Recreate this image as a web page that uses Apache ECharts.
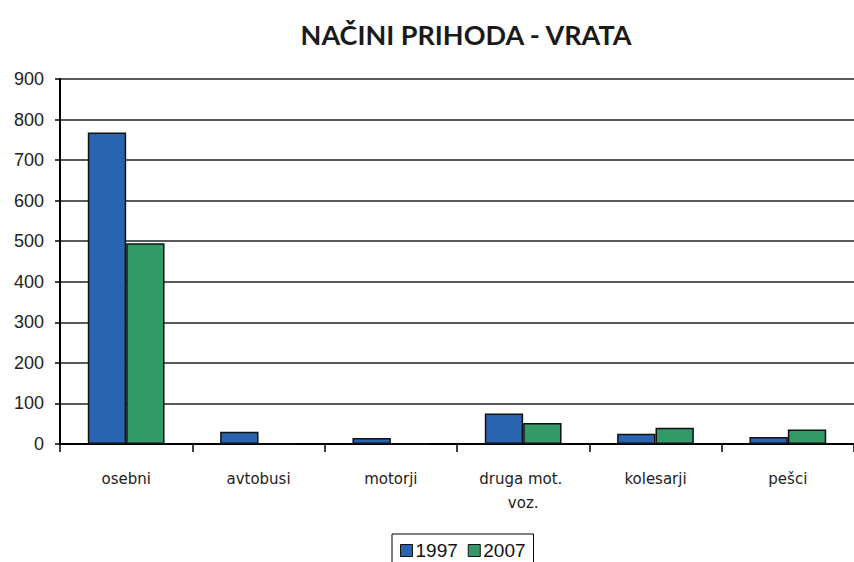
<!DOCTYPE html>
<html>
<head>
<meta charset="utf-8">
<script src="https://cdn.jsdelivr.net/npm/echarts@6/dist/echarts.min.js"></script>
<style>
  html, body { margin: 0; padding: 0; background: #fff; }
  #chart { width: 854px; height: 562px; }
</style>
</head>
<body>
<div id="chart"></div>
<script>
(function() {
  var categories = ['osebni', 'avtobusi', 'motorji', 'druga mot. voz.', 'kolesarji', 'pešci'];
  var values1997 = [768, 30, 15, 75, 25, 17];
  var values2007 = [495, 0, 0, 52, 40, 36];
  var yTicks = [0, 100, 200, 300, 400, 500, 600, 700, 800, 900];

  var chart = echarts.init(document.getElementById('chart'), null, { renderer: 'svg' });

  chart.setOption({
    animation: false,
    backgroundColor: '#ffffff',
    title: {
      text: 'NAČINI PRIHODA - VRATA',
      left: 461,
      top: 16,
      textAlign: 'center',
      textStyle: {
        fontFamily: 'Lato',
        fontSize: 27,
        fontWeight: 'bold',
        color: '#1a1a1a'
      }
    },
    legend: {
      bottom: -8,
      left: 392,
      itemWidth: 12,
      itemHeight: 12,
      itemGap: 10,
      padding: [7, 8, 10, 8],
      borderColor: '#000',
      borderWidth: 1,
      icon: 'rect',
      itemStyle: { borderColor: '#111', borderWidth: 1 },
      textStyle: { color: '#111', fontFamily: 'Liberation Sans', fontSize: 19, padding: [0, 0, 0, -2] },
      data: ['1997', '2007']
    },
    grid: {
      left: 60,
      right: -13,
      top: 79,
      bottom: 118
    },
    xAxis: {
      type: 'category',
      data: categories,
      axisLine: { lineStyle: { color: '#000', width: 2 } },
      axisTick: { show: true, interval: 0, length: 8, lineStyle: { color: '#000', width: 1.5 } },
      axisLabel: {
        interval: 0,
        color: '#222',
        fontFamily: 'DejaVu Sans',
        fontSize: 15,
        margin: 23,
        width: 110,
        overflow: 'break',
        lineHeight: 24
      }
    },
    yAxis: {
      type: 'value',
      min: yTicks[0],
      max: yTicks[yTicks.length - 1],
      interval: 100,
      axisLine: { show: true, lineStyle: { color: '#000', width: 2 } },
      axisTick: { show: true, length: 5, lineStyle: { color: '#000', width: 1.5 } },
      axisLabel: { color: '#222', fontFamily: 'Liberation Sans', fontSize: 18, margin: 16 },
      splitLine: { lineStyle: { color: '#222', width: 1.5 } }
    },
    series: [{
      name: '1997',
      type: 'bar',
      data: values1997,
      barGap: '0%',
      barCategoryGap: '42%',
      itemStyle: { color: '#2a64b0', borderColor: '#111', borderWidth: 1.5 }
    }, {
      name: '2007',
      type: 'bar',
      data: values2007,
      itemStyle: { color: '#339966', borderColor: '#111', borderWidth: 1.5 }
    }]
  });

  window.addEventListener('resize', function() { chart.resize(); });
})();
</script>
</body>
</html>
